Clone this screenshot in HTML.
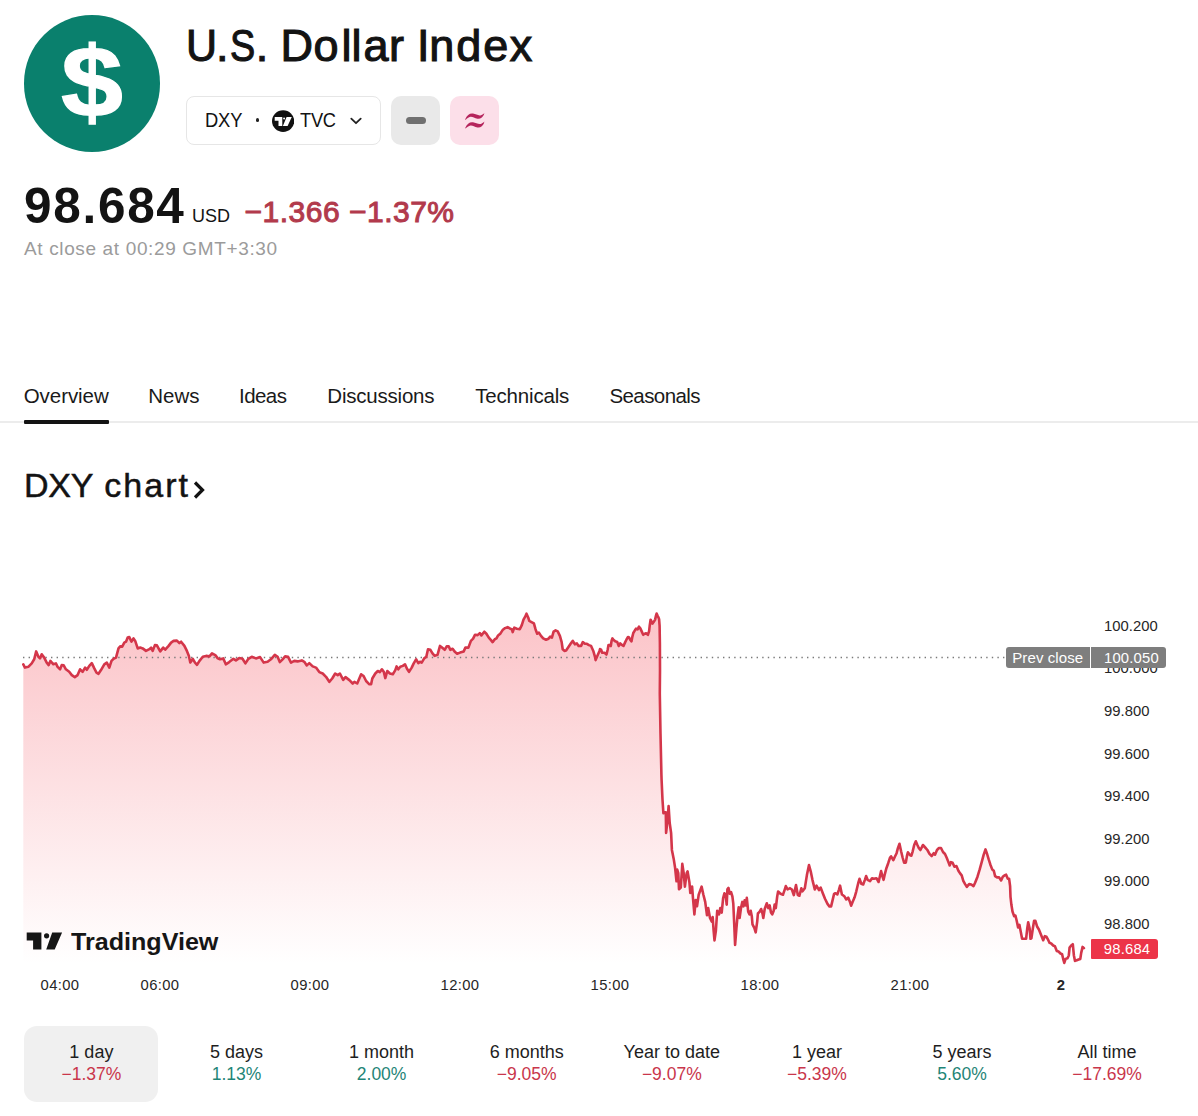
<!DOCTYPE html>
<html><head><meta charset="utf-8"><title>U.S. Dollar Index</title>
<style>
*{margin:0;padding:0;box-sizing:border-box}
html,body{width:1198px;height:1116px;background:#fff;overflow:hidden}
body{font-family:"Liberation Sans",sans-serif;color:#131313;position:relative}
.abs{position:absolute;white-space:nowrap}
#logo{left:23.8px;top:15.4px;width:136.2px;height:136.2px;border-radius:50%;background:#0a806d}
#title{left:186px;top:19px;font-size:45px;line-height:54px;-webkit-text-stroke:1.1px #131313;letter-spacing:0.4px}
#pill{left:185.5px;top:96px;width:195.5px;height:49px;border:1px solid #e6e6e6;border-radius:8px;background:#fff}
.btn{top:96px;width:49px;height:49px;border-radius:10px}
#price{left:24px;top:177.5px;font-size:49.5px;line-height:56px;font-weight:bold;letter-spacing:1.7px}
#usd{left:192px;top:204px;font-size:18px;line-height:24px}
#chg{left:244.5px;top:194px;font-size:30px;line-height:36px;color:#b23a4c;-webkit-text-stroke:1px #b23a4c;letter-spacing:0.5px}
#close{left:24px;top:237px;font-size:19px;line-height:24px;color:#9b9b9b;letter-spacing:0.64px}
.tab{top:382.6px;font-size:20.5px;line-height:26px;color:#1a1a1a}
#h2{left:24px;top:464.3px;font-size:34px;line-height:42px;-webkit-text-stroke:0.5px #131313}
.yl{position:absolute;left:1104px;font-size:14.8px;line-height:16px;color:#262626;white-space:nowrap;letter-spacing:0.05px}
.xl{position:absolute;top:977px;width:80px;text-align:center;font-size:14.8px;line-height:16px;color:#262626;letter-spacing:0.35px}
.rg{position:absolute;top:1042px;width:140px;text-align:center}
.rn{font-size:18px;line-height:21px;color:#1e1e1e}
.rv{font-size:17.5px;line-height:22px}
.r{color:#c9364b} .g{color:#1f8577}
</style></head><body>

<div id="logo" class="abs"></div>
<svg class="abs" style="left:24px;top:15px" width="136" height="137" viewBox="0 0 136 137"><text x="68" y="100" text-anchor="middle" font-family="Liberation Sans" font-weight="bold" font-size="96" fill="#fff" stroke="#fff" stroke-width="1.2" transform="translate(68 68.5) scale(1.16 1.045) translate(-68 -67.9)">$</text></svg>

<div id="title" class="abs"><span style="position:relative;left:-0.4px;display:inline-block;transform:scaleX(0.955);transform-origin:0 0">U</span><span style="position:relative;left:-2.8px">.</span><span style="position:relative;left:-1.6px;display:inline-block;transform:scaleX(0.84);transform-origin:0 0">S</span><span style="position:relative;left:-6.5px">.</span> <span style="position:relative;left:-7.5px">D</span><span style="position:relative;left:-7.5px">o</span><span style="position:relative;left:-5px">l</span><span style="position:relative;left:-5.3px">l</span><span style="position:relative;left:-3.8px">a</span><span style="position:relative;left:-3.6px">r</span> <span style="position:relative;left:-3.9px">I</span><span style="position:relative;left:-4.5px">n</span><span style="position:relative;left:-3px">d</span><span style="position:relative;left:-1.4px">e</span><span style="position:relative;left:-0.5px">x</span></div>

<div id="pill" class="abs"></div>
<div class="abs" style="left:205.2px;top:107.8px;font-size:20.3px;line-height:24px;letter-spacing:-0.2px;transform:scaleX(0.905);transform-origin:0 0">DXY</div>
<div class="abs" style="left:255.8px;top:118px;width:3.5px;height:3.5px;border-radius:50%;background:#222"></div>
<svg class="abs" style="left:272px;top:109.75px" width="22.2" height="22.2" viewBox="0 0 22.2 22.2"><ellipse cx="11.1" cy="11.1" rx="11.1" ry="10.8" fill="#111"/><path d="M2.7 6.9h7.6v9.1h-3.8v-5.3h-3.8z M13.1 8.5a1.0 1.0 0 1 1-2 0a1.0 1.0 0 1 1 2 0z M14.6 6.9h5.2l-4.2 9.1h-4.7z" fill="#fff"/></svg>
<div class="abs" style="left:300px;top:107.8px;font-size:20.3px;line-height:24px;letter-spacing:-0.3px;transform:scaleX(0.9);transform-origin:0 0">TVC</div>
<svg class="abs" style="left:349px;top:115.4px" width="14" height="10" viewBox="0 0 14 10"><path d="M2.3 3.6 L7 8.2 L11.7 3.6" fill="none" stroke="#222" stroke-width="1.8" stroke-linecap="round" stroke-linejoin="round"/></svg>

<div class="abs btn" style="left:391px;background:#e9e9e9"></div>
<div class="abs" style="left:406px;top:116.6px;width:19.6px;height:7.5px;border-radius:3.75px;background:#707070"></div>
<div class="abs btn" style="left:450px;background:#fcdfe9"></div>
<svg class="abs" style="left:463px;top:110px" width="24" height="22" viewBox="0 0 24 22"><path d="M2.2,9.2 C4,5 7,3 10,3.6 C13,4.2 15.5,6 18,5.2 C19.5,4.7 20.5,3.8 21.3,2.9 L21.0,4.6 C20,7 17.5,9.3 14.5,8.8 C11.5,8.3 9.5,6.5 7.5,6.8 C5.5,7.1 4,8.5 2.6,9.9 Z" fill="#b5245c"/><path d="M2.2,9.2 C4,5 7,3 10,3.6 C13,4.2 15.5,6 18,5.2 C19.5,4.7 20.5,3.8 21.3,2.9 L21.0,4.6 C20,7 17.5,9.3 14.5,8.8 C11.5,8.3 9.5,6.5 7.5,6.8 C5.5,7.1 4,8.5 2.6,9.9 Z" fill="#b5245c" transform="translate(0 8.7)"/></svg>

<div id="price" class="abs">98.684</div>
<div id="usd" class="abs">USD</div>
<div id="chg" class="abs">−1.366 −1.37%</div>
<div id="close" class="abs">At close at 00:29 GMT+3:30</div>

<div class="abs tab" style="left:23.7px;letter-spacing:-0.05px">Overview</div>
<div class="abs tab" style="left:148.3px">News</div>
<div class="abs tab" style="left:239px;letter-spacing:-0.55px">Ideas</div>
<div class="abs tab" style="left:327.3px;letter-spacing:-0.21px">Discussions</div>
<div class="abs tab" style="left:475.2px;letter-spacing:-0.17px">Technicals</div>
<div class="abs tab" style="left:609.5px;letter-spacing:-0.6px">Seasonals</div>
<div class="abs" style="left:0;top:420.8px;width:1198px;height:2.6px;background:#ececec"></div>
<div class="abs" style="left:23.6px;top:420px;width:85.6px;height:4px;background:#131313;border-radius:1px"></div>

<div id="h2" class="abs"><span style="letter-spacing:-0.25px">DXY</span></div>
<div class="abs" style="left:104.2px;top:464.3px;font-size:34px;line-height:42px;-webkit-text-stroke:0.5px #131313;letter-spacing:2.05px">chart</div>
<svg class="abs" style="left:191.3px;top:479.2px" width="16" height="22" viewBox="0 0 16 22"><path d="M4 3.5 L11.5 11 L4 18.5" fill="none" stroke="#131313" stroke-width="3.2" stroke-linecap="butt" stroke-linejoin="miter"/></svg>

<svg class="abs" style="left:0;top:0" width="1198" height="1116" viewBox="0 0 1198 1116">
<defs><linearGradient id="g" x1="0" y1="610" x2="0" y2="964" gradientUnits="userSpaceOnUse">
<stop offset="0" stop-color="#f23645" stop-opacity="0.30"/><stop offset="1" stop-color="#f23645" stop-opacity="0"/></linearGradient></defs>
<path d="M23.3,664.3 L25.0,667.6 L28.3,666.8 L31.7,663.4 L34.2,659.3 L36.2,651.4 L38.4,656.8 L40.0,658.4 L41.7,654.3 L44.2,657.6 L46.7,662.6 L48.7,665.1 L50.4,660.9 L53.4,664.3 L55.9,663.4 L57.6,666.8 L60.1,669.3 L61.7,665.1 L63.7,665.4 L65.9,669.3 L69.2,671.8 L71.8,675.1 L74.8,677.1 L77.6,675.1 L80.1,669.3 L82.6,671.8 L85.1,667.6 L86.8,669.8 L89.3,665.9 L91.8,663.1 L94.3,668.4 L96.5,672.6 L98.5,673.8 L101.0,670.1 L104.3,664.3 L106.8,662.6 L109.3,667.6 L111.5,660.9 L113.5,658.8 L116.0,657.6 L118.5,648.4 L120.2,646.4 L122.2,646.7 L124.3,642.6 L126.0,641.7 L127.7,637.6 L129.3,637.1 L131.5,641.7 L133.5,638.4 L135.2,640.9 L137.7,648.4 L140.2,647.6 L142.7,648.4 L146.0,650.9 L149.4,649.2 L151.1,647.6 L152.7,650.9 L154.9,645.1 L156.9,645.4 L160.2,651.4 L163.2,647.6 L165.2,649.7 L168.6,645.9 L171.1,642.6 L173.6,640.9 L176.9,640.6 L179.4,643.1 L181.1,641.7 L184.4,645.9 L186.9,650.9 L188.9,655.9 L190.3,662.6 L192.8,658.8 L195.0,662.6 L197.0,664.8 L199.5,660.9 L202.8,656.8 L206.1,655.9 L209.5,656.4 L212.0,653.4 L215.3,655.1 L217.8,658.4 L220.0,659.3 L223.3,658.4 L225.8,664.3 L229.2,662.1 L233.4,658.8 L235.9,660.4 L239.2,658.1 L242.5,658.8 L245.4,663.4 L248.4,658.8 L251.7,656.8 L255.9,658.4 L260.1,657.1 L263.7,662.6 L267.6,661.8 L270.9,659.3 L274.8,654.8 L277.6,656.8 L279.8,662.1 L282.6,659.3 L285.1,656.4 L288.1,656.8 L291.0,662.6 L294.3,660.9 L297.6,661.4 L301.8,660.4 L304.3,661.8 L306.8,665.4 L309.3,663.1 L312.7,666.4 L316.0,667.6 L319.3,672.1 L322.7,673.5 L326.0,676.8 L329.3,681.8 L332.2,678.5 L335.2,673.5 L337.7,675.1 L339.9,673.5 L343.2,679.8 L345.5,677.1 L349.4,680.1 L352.7,683.5 L354.4,681.8 L357.2,683.5 L361.1,674.3 L363.6,676.0 L366.1,681.0 L369.4,684.3 L371.1,684.3 L372.3,678.5 L375.3,673.5 L377.8,671.0 L379.9,672.1 L381.9,669.3 L383.9,672.1 L385.3,678.1 L387.3,671.0 L389.9,673.5 L392.8,674.3 L395.3,670.1 L396.6,666.4 L398.3,669.3 L400.3,666.8 L402.8,665.9 L405.0,664.3 L407.0,668.8 L409.0,671.8 L411.7,667.6 L413.7,663.4 L416.2,659.3 L418.3,663.1 L420.0,661.8 L421.7,662.6 L424.2,658.4 L426.3,656.8 L428.0,649.3 L430.4,649.8 L432.5,653.4 L434.7,655.9 L437.5,654.8 L440.0,645.9 L442.0,647.6 L444.7,649.8 L446.7,646.4 L448.7,646.4 L450.4,649.8 L452.6,648.8 L455.1,652.1 L457.1,653.8 L460.1,652.6 L463.7,651.4 L465.4,647.6 L468.4,647.6 L470.9,640.9 L473.1,638.7 L475.1,634.7 L477.6,635.1 L479.8,633.1 L481.4,635.4 L484.3,631.7 L486.4,633.7 L488.8,637.6 L491.0,640.1 L492.6,642.1 L494.8,639.2 L496.5,638.4 L498.1,635.4 L500.5,633.4 L502.6,630.1 L505.1,628.1 L507.6,627.1 L510.2,628.7 L511.8,629.2 L512.7,632.1 L514.3,627.6 L516.8,628.7 L519.8,629.2 L521.8,625.1 L523.5,619.7 L525.2,616.7 L526.5,613.7 L528.2,617.5 L529.3,620.9 L531.5,622.1 L533.9,623.4 L535.5,629.2 L537.2,633.7 L538.9,632.6 L541.0,635.9 L543.2,638.4 L546.0,639.7 L548.5,638.7 L550.2,636.7 L551.9,637.6 L553.6,631.7 L555.6,630.4 L557.7,631.4 L559.9,635.9 L561.6,641.8 L562.7,649.3 L564.4,650.9 L566.1,650.4 L568.6,646.8 L571.1,643.1 L572.8,640.9 L574.9,644.3 L576.9,643.4 L578.6,645.9 L581.1,645.9 L582.8,642.1 L584.9,643.8 L586.9,643.8 L588.9,645.1 L591.1,645.9 L593.3,650.9 L595.0,656.8 L595.6,660.1 L597.3,655.9 L599.5,650.9 L600.0,649.1 L601.1,649.6 L602.2,652.7 L604.5,652.7 L606.5,654.5 L607.6,650.0 L608.5,645.1 L609.7,645.1 L610.8,646.0 L611.6,640.6 L612.4,638.4 L613.4,639.7 L615.2,641.3 L617.2,642.0 L618.8,646.0 L620.2,643.3 L621.5,644.7 L623.5,646.0 L625.1,642.4 L626.4,639.7 L628.0,637.0 L629.1,637.5 L630.5,640.2 L631.5,641.3 L632.4,636.6 L633.3,633.0 L634.9,630.3 L636.0,628.7 L637.6,629.4 L639.0,626.7 L640.3,628.4 L641.7,631.4 L643.2,634.8 L644.8,633.7 L646.1,633.2 L647.9,634.8 L649.1,631.2 L649.7,625.8 L650.6,619.7 L651.5,621.4 L652.4,623.6 L653.8,621.8 L655.1,619.6 L656.0,615.5 L656.6,613.5 L657.5,615.5 L658.4,617.3 L659.1,619.1 L659.6,625.8 L659.9,643.8 L660.0,670.6 L659.8,693.4 L660.5,733.8 L661.4,774.1 L661.6,780.0 L662.5,799.7 L663.4,813.2 L665.8,812.3 L666.1,832.9 L667.6,819.4 L668.6,806.0 L669.7,823.0 L671.1,832.9 L671.9,849.9 L673.7,858.9 L675.1,867.8 L676.5,881.3 L677.2,869.6 L678.3,873.2 L679.0,889.3 L680.8,887.5 L682.3,863.9 L683.7,873.2 L684.9,886.6 L686.7,873.2 L687.6,871.4 L689.4,882.2 L690.3,892.9 L692.1,886.6 L693.0,898.3 L694.4,914.4 L695.7,900.1 L697.0,906.3 L698.7,894.7 L701.6,886.6 L703.4,894.7 L705.2,901.9 L707.0,915.3 L708.2,908.1 L710.0,918.0 L711.8,921.6 L712.7,917.1 L713.6,930.5 L714.5,940.4 L715.9,930.5 L717.2,910.8 L719.0,914.4 L720.3,908.1 L721.7,912.6 L723.1,898.3 L724.4,893.3 L725.6,894.7 L726.7,904.6 L727.4,889.3 L728.5,887.9 L729.7,893.8 L731.0,892.0 L732.4,896.5 L733.3,903.7 L734.2,923.4 L735.1,944.9 L736.4,928.7 L737.5,916.2 L738.7,907.2 L739.6,918.0 L741.0,908.1 L742.3,901.9 L743.5,906.3 L744.6,900.4 L745.9,905.4 L746.8,897.9 L748.2,911.7 L749.5,914.4 L750.7,910.8 L751.8,916.2 L752.5,924.3 L754.3,927.8 L755.7,932.3 L757.2,921.6 L757.9,913.5 L759.7,911.7 L761.1,909.0 L762.5,913.5 L763.3,918.0 L764.7,909.0 L766.8,903.3 L768.3,908.1 L769.7,905.4 L771.0,912.6 L772.2,914.4 L773.7,910.8 L774.6,904.6 L775.8,908.1 L777.2,896.5 L778.1,891.5 L780.5,893.8 L783.0,894.7 L784.8,889.3 L785.8,886.1 L787.6,889.3 L789.8,888.4 L790.0,888.2 L791.9,889.5 L793.8,895.1 L796.0,885.1 L797.8,895.1 L799.4,895.7 L801.3,888.2 L802.5,891.3 L804.8,888.2 L806.9,875.1 L809.0,865.1 L810.7,871.3 L812.5,880.1 L814.8,889.5 L816.5,885.7 L819.0,890.1 L820.7,887.6 L822.8,893.2 L825.0,898.8 L827.5,903.9 L829.4,906.4 L831.1,906.4 L832.6,900.1 L834.1,893.8 L835.3,893.2 L837.3,894.5 L838.8,890.1 L840.1,885.7 L841.9,894.5 L844.4,896.3 L846.3,899.5 L848.2,897.6 L849.8,901.4 L851.1,905.7 L852.6,902.0 L854.5,897.6 L856.3,891.3 L858.2,883.2 L859.5,878.8 L861.3,883.8 L863.2,884.5 L864.8,880.1 L866.1,876.1 L867.6,879.8 L870.1,881.1 L872.0,878.2 L873.9,878.8 L876.4,878.2 L878.6,882.0 L879.9,876.3 L881.1,871.1 L882.4,876.3 L883.6,879.8 L884.9,873.8 L886.4,868.2 L888.2,863.2 L890.1,857.5 L891.1,856.3 L893.3,860.1 L895.1,856.3 L896.6,853.2 L897.9,848.2 L899.5,843.8 L901.1,851.3 L902.6,857.5 L904.1,862.6 L905.8,862.6 L907.0,855.7 L907.9,852.3 L909.9,855.0 L911.4,855.7 L912.7,851.3 L914.2,845.0 L915.8,841.3 L917.4,845.0 L918.9,848.2 L920.4,850.0 L922.0,846.9 L922.9,845.0 L925.2,847.5 L927.4,850.0 L929.5,853.8 L931.7,856.0 L933.7,853.2 L935.0,854.7 L937.0,850.0 L939.0,848.0 L941.0,848.0 L943.0,852.0 L945.0,854.0 L946.8,858.0 L948.4,862.1 L949.7,865.4 L951.0,862.1 L952.6,862.7 L954.4,866.7 L956.4,866.1 L958.4,870.7 L960.1,873.4 L961.7,875.4 L963.3,880.8 L965.1,884.1 L966.8,886.8 L969.1,884.1 L971.3,884.5 L973.5,886.1 L975.1,882.8 L977.5,876.7 L979.7,869.4 L981.7,862.1 L983.7,854.7 L985.5,849.4 L987.1,854.0 L988.7,859.4 L990.4,864.7 L992.2,869.4 L993.8,870.7 L995.1,876.1 L997.1,877.4 L999.1,877.4 L1001.1,880.5 L1002.8,876.7 L1004.4,875.4 L1006.1,874.7 L1007.8,878.7 L1009.1,878.7 L1010.1,886.1 L1010.5,896.8 L1011.4,904.8 L1012.5,911.5 L1014.1,916.1 L1015.4,915.5 L1016.7,920.8 L1018.1,927.5 L1019.4,924.8 L1020.7,931.5 L1022.1,938.8 L1024.2,938.8 L1026.1,938.8 L1027.2,928.8 L1028.2,922.2 L1029.6,928.2 L1030.5,938.8 L1031.4,938.2 L1032.8,928.8 L1034.1,920.8 L1035.4,920.8 L1037.2,926.8 L1038.9,929.5 L1040.5,933.5 L1042.1,937.5 L1043.2,940.2 L1044.8,936.2 L1046.5,936.8 L1048.3,940.2 L1049.6,942.9 L1051.2,943.5 L1053.2,945.5 L1054.9,946.2 L1056.8,950.9 L1058.5,951.5 L1060.5,953.5 L1062.1,954.2 L1063.5,960.2 L1064.3,962.9 L1065.6,958.9 L1067.5,958.2 L1068.8,955.5 L1069.6,947.5 L1071.2,945.5 L1072.8,944.2 L1073.9,955.5 L1075.0,960.9 L1076.8,960.2 L1078.6,959.5 L1080.3,958.9 L1081.2,952.9 L1082.6,946.9 L1083.9,948.2 L1083.9,964 L23.3,964 Z" fill="url(#g)"/>
<line x1="23" y1="657.5" x2="1005" y2="657.5" stroke="#7a7a7a" stroke-width="1.3" stroke-dasharray="1.4 4.2"/>
<path d="M23.3,664.3 L25.0,667.6 L28.3,666.8 L31.7,663.4 L34.2,659.3 L36.2,651.4 L38.4,656.8 L40.0,658.4 L41.7,654.3 L44.2,657.6 L46.7,662.6 L48.7,665.1 L50.4,660.9 L53.4,664.3 L55.9,663.4 L57.6,666.8 L60.1,669.3 L61.7,665.1 L63.7,665.4 L65.9,669.3 L69.2,671.8 L71.8,675.1 L74.8,677.1 L77.6,675.1 L80.1,669.3 L82.6,671.8 L85.1,667.6 L86.8,669.8 L89.3,665.9 L91.8,663.1 L94.3,668.4 L96.5,672.6 L98.5,673.8 L101.0,670.1 L104.3,664.3 L106.8,662.6 L109.3,667.6 L111.5,660.9 L113.5,658.8 L116.0,657.6 L118.5,648.4 L120.2,646.4 L122.2,646.7 L124.3,642.6 L126.0,641.7 L127.7,637.6 L129.3,637.1 L131.5,641.7 L133.5,638.4 L135.2,640.9 L137.7,648.4 L140.2,647.6 L142.7,648.4 L146.0,650.9 L149.4,649.2 L151.1,647.6 L152.7,650.9 L154.9,645.1 L156.9,645.4 L160.2,651.4 L163.2,647.6 L165.2,649.7 L168.6,645.9 L171.1,642.6 L173.6,640.9 L176.9,640.6 L179.4,643.1 L181.1,641.7 L184.4,645.9 L186.9,650.9 L188.9,655.9 L190.3,662.6 L192.8,658.8 L195.0,662.6 L197.0,664.8 L199.5,660.9 L202.8,656.8 L206.1,655.9 L209.5,656.4 L212.0,653.4 L215.3,655.1 L217.8,658.4 L220.0,659.3 L223.3,658.4 L225.8,664.3 L229.2,662.1 L233.4,658.8 L235.9,660.4 L239.2,658.1 L242.5,658.8 L245.4,663.4 L248.4,658.8 L251.7,656.8 L255.9,658.4 L260.1,657.1 L263.7,662.6 L267.6,661.8 L270.9,659.3 L274.8,654.8 L277.6,656.8 L279.8,662.1 L282.6,659.3 L285.1,656.4 L288.1,656.8 L291.0,662.6 L294.3,660.9 L297.6,661.4 L301.8,660.4 L304.3,661.8 L306.8,665.4 L309.3,663.1 L312.7,666.4 L316.0,667.6 L319.3,672.1 L322.7,673.5 L326.0,676.8 L329.3,681.8 L332.2,678.5 L335.2,673.5 L337.7,675.1 L339.9,673.5 L343.2,679.8 L345.5,677.1 L349.4,680.1 L352.7,683.5 L354.4,681.8 L357.2,683.5 L361.1,674.3 L363.6,676.0 L366.1,681.0 L369.4,684.3 L371.1,684.3 L372.3,678.5 L375.3,673.5 L377.8,671.0 L379.9,672.1 L381.9,669.3 L383.9,672.1 L385.3,678.1 L387.3,671.0 L389.9,673.5 L392.8,674.3 L395.3,670.1 L396.6,666.4 L398.3,669.3 L400.3,666.8 L402.8,665.9 L405.0,664.3 L407.0,668.8 L409.0,671.8 L411.7,667.6 L413.7,663.4 L416.2,659.3 L418.3,663.1 L420.0,661.8 L421.7,662.6 L424.2,658.4 L426.3,656.8 L428.0,649.3 L430.4,649.8 L432.5,653.4 L434.7,655.9 L437.5,654.8 L440.0,645.9 L442.0,647.6 L444.7,649.8 L446.7,646.4 L448.7,646.4 L450.4,649.8 L452.6,648.8 L455.1,652.1 L457.1,653.8 L460.1,652.6 L463.7,651.4 L465.4,647.6 L468.4,647.6 L470.9,640.9 L473.1,638.7 L475.1,634.7 L477.6,635.1 L479.8,633.1 L481.4,635.4 L484.3,631.7 L486.4,633.7 L488.8,637.6 L491.0,640.1 L492.6,642.1 L494.8,639.2 L496.5,638.4 L498.1,635.4 L500.5,633.4 L502.6,630.1 L505.1,628.1 L507.6,627.1 L510.2,628.7 L511.8,629.2 L512.7,632.1 L514.3,627.6 L516.8,628.7 L519.8,629.2 L521.8,625.1 L523.5,619.7 L525.2,616.7 L526.5,613.7 L528.2,617.5 L529.3,620.9 L531.5,622.1 L533.9,623.4 L535.5,629.2 L537.2,633.7 L538.9,632.6 L541.0,635.9 L543.2,638.4 L546.0,639.7 L548.5,638.7 L550.2,636.7 L551.9,637.6 L553.6,631.7 L555.6,630.4 L557.7,631.4 L559.9,635.9 L561.6,641.8 L562.7,649.3 L564.4,650.9 L566.1,650.4 L568.6,646.8 L571.1,643.1 L572.8,640.9 L574.9,644.3 L576.9,643.4 L578.6,645.9 L581.1,645.9 L582.8,642.1 L584.9,643.8 L586.9,643.8 L588.9,645.1 L591.1,645.9 L593.3,650.9 L595.0,656.8 L595.6,660.1 L597.3,655.9 L599.5,650.9 L600.0,649.1 L601.1,649.6 L602.2,652.7 L604.5,652.7 L606.5,654.5 L607.6,650.0 L608.5,645.1 L609.7,645.1 L610.8,646.0 L611.6,640.6 L612.4,638.4 L613.4,639.7 L615.2,641.3 L617.2,642.0 L618.8,646.0 L620.2,643.3 L621.5,644.7 L623.5,646.0 L625.1,642.4 L626.4,639.7 L628.0,637.0 L629.1,637.5 L630.5,640.2 L631.5,641.3 L632.4,636.6 L633.3,633.0 L634.9,630.3 L636.0,628.7 L637.6,629.4 L639.0,626.7 L640.3,628.4 L641.7,631.4 L643.2,634.8 L644.8,633.7 L646.1,633.2 L647.9,634.8 L649.1,631.2 L649.7,625.8 L650.6,619.7 L651.5,621.4 L652.4,623.6 L653.8,621.8 L655.1,619.6 L656.0,615.5 L656.6,613.5 L657.5,615.5 L658.4,617.3 L659.1,619.1 L659.6,625.8 L659.9,643.8 L660.0,670.6 L659.8,693.4 L660.5,733.8 L661.4,774.1 L661.6,780.0 L662.5,799.7 L663.4,813.2 L665.8,812.3 L666.1,832.9 L667.6,819.4 L668.6,806.0 L669.7,823.0 L671.1,832.9 L671.9,849.9 L673.7,858.9 L675.1,867.8 L676.5,881.3 L677.2,869.6 L678.3,873.2 L679.0,889.3 L680.8,887.5 L682.3,863.9 L683.7,873.2 L684.9,886.6 L686.7,873.2 L687.6,871.4 L689.4,882.2 L690.3,892.9 L692.1,886.6 L693.0,898.3 L694.4,914.4 L695.7,900.1 L697.0,906.3 L698.7,894.7 L701.6,886.6 L703.4,894.7 L705.2,901.9 L707.0,915.3 L708.2,908.1 L710.0,918.0 L711.8,921.6 L712.7,917.1 L713.6,930.5 L714.5,940.4 L715.9,930.5 L717.2,910.8 L719.0,914.4 L720.3,908.1 L721.7,912.6 L723.1,898.3 L724.4,893.3 L725.6,894.7 L726.7,904.6 L727.4,889.3 L728.5,887.9 L729.7,893.8 L731.0,892.0 L732.4,896.5 L733.3,903.7 L734.2,923.4 L735.1,944.9 L736.4,928.7 L737.5,916.2 L738.7,907.2 L739.6,918.0 L741.0,908.1 L742.3,901.9 L743.5,906.3 L744.6,900.4 L745.9,905.4 L746.8,897.9 L748.2,911.7 L749.5,914.4 L750.7,910.8 L751.8,916.2 L752.5,924.3 L754.3,927.8 L755.7,932.3 L757.2,921.6 L757.9,913.5 L759.7,911.7 L761.1,909.0 L762.5,913.5 L763.3,918.0 L764.7,909.0 L766.8,903.3 L768.3,908.1 L769.7,905.4 L771.0,912.6 L772.2,914.4 L773.7,910.8 L774.6,904.6 L775.8,908.1 L777.2,896.5 L778.1,891.5 L780.5,893.8 L783.0,894.7 L784.8,889.3 L785.8,886.1 L787.6,889.3 L789.8,888.4 L790.0,888.2 L791.9,889.5 L793.8,895.1 L796.0,885.1 L797.8,895.1 L799.4,895.7 L801.3,888.2 L802.5,891.3 L804.8,888.2 L806.9,875.1 L809.0,865.1 L810.7,871.3 L812.5,880.1 L814.8,889.5 L816.5,885.7 L819.0,890.1 L820.7,887.6 L822.8,893.2 L825.0,898.8 L827.5,903.9 L829.4,906.4 L831.1,906.4 L832.6,900.1 L834.1,893.8 L835.3,893.2 L837.3,894.5 L838.8,890.1 L840.1,885.7 L841.9,894.5 L844.4,896.3 L846.3,899.5 L848.2,897.6 L849.8,901.4 L851.1,905.7 L852.6,902.0 L854.5,897.6 L856.3,891.3 L858.2,883.2 L859.5,878.8 L861.3,883.8 L863.2,884.5 L864.8,880.1 L866.1,876.1 L867.6,879.8 L870.1,881.1 L872.0,878.2 L873.9,878.8 L876.4,878.2 L878.6,882.0 L879.9,876.3 L881.1,871.1 L882.4,876.3 L883.6,879.8 L884.9,873.8 L886.4,868.2 L888.2,863.2 L890.1,857.5 L891.1,856.3 L893.3,860.1 L895.1,856.3 L896.6,853.2 L897.9,848.2 L899.5,843.8 L901.1,851.3 L902.6,857.5 L904.1,862.6 L905.8,862.6 L907.0,855.7 L907.9,852.3 L909.9,855.0 L911.4,855.7 L912.7,851.3 L914.2,845.0 L915.8,841.3 L917.4,845.0 L918.9,848.2 L920.4,850.0 L922.0,846.9 L922.9,845.0 L925.2,847.5 L927.4,850.0 L929.5,853.8 L931.7,856.0 L933.7,853.2 L935.0,854.7 L937.0,850.0 L939.0,848.0 L941.0,848.0 L943.0,852.0 L945.0,854.0 L946.8,858.0 L948.4,862.1 L949.7,865.4 L951.0,862.1 L952.6,862.7 L954.4,866.7 L956.4,866.1 L958.4,870.7 L960.1,873.4 L961.7,875.4 L963.3,880.8 L965.1,884.1 L966.8,886.8 L969.1,884.1 L971.3,884.5 L973.5,886.1 L975.1,882.8 L977.5,876.7 L979.7,869.4 L981.7,862.1 L983.7,854.7 L985.5,849.4 L987.1,854.0 L988.7,859.4 L990.4,864.7 L992.2,869.4 L993.8,870.7 L995.1,876.1 L997.1,877.4 L999.1,877.4 L1001.1,880.5 L1002.8,876.7 L1004.4,875.4 L1006.1,874.7 L1007.8,878.7 L1009.1,878.7 L1010.1,886.1 L1010.5,896.8 L1011.4,904.8 L1012.5,911.5 L1014.1,916.1 L1015.4,915.5 L1016.7,920.8 L1018.1,927.5 L1019.4,924.8 L1020.7,931.5 L1022.1,938.8 L1024.2,938.8 L1026.1,938.8 L1027.2,928.8 L1028.2,922.2 L1029.6,928.2 L1030.5,938.8 L1031.4,938.2 L1032.8,928.8 L1034.1,920.8 L1035.4,920.8 L1037.2,926.8 L1038.9,929.5 L1040.5,933.5 L1042.1,937.5 L1043.2,940.2 L1044.8,936.2 L1046.5,936.8 L1048.3,940.2 L1049.6,942.9 L1051.2,943.5 L1053.2,945.5 L1054.9,946.2 L1056.8,950.9 L1058.5,951.5 L1060.5,953.5 L1062.1,954.2 L1063.5,960.2 L1064.3,962.9 L1065.6,958.9 L1067.5,958.2 L1068.8,955.5 L1069.6,947.5 L1071.2,945.5 L1072.8,944.2 L1073.9,955.5 L1075.0,960.9 L1076.8,960.2 L1078.6,959.5 L1080.3,958.9 L1081.2,952.9 L1082.6,946.9 L1083.9,948.2" fill="none" stroke="#d4364a" stroke-width="2.6" stroke-linejoin="round" stroke-linecap="round"/>
</svg>

<div class="yl" style="top:617.8px">100.200</div>
<div class="yl" style="top:660.4px">100.000</div>
<div class="yl" style="top:703.1px">99.800</div>
<div class="yl" style="top:745.6px">99.600</div>
<div class="yl" style="top:788.2px">99.400</div>
<div class="yl" style="top:830.8px">99.200</div>
<div class="yl" style="top:873.3px">99.000</div>
<div class="yl" style="top:915.9px">98.800</div>
<div class="abs" style="left:1006px;top:647.1px;width:83.5px;height:20.5px;background:#7e7e7e;border-radius:3px 0 0 3px;color:#fff;font-size:15px;line-height:22px;text-align:center;letter-spacing:0.1px">Prev close</div>
<div class="abs" style="left:1091.2px;top:647.1px;width:74.6px;height:20.5px;background:#7e7e7e;border-radius:0 3px 3px 0;color:#fff;font-size:14.8px;line-height:22px;padding-left:12.8px;letter-spacing:0.2px">100.050</div>
<div class="abs" style="left:1091px;top:938.5px;width:67px;height:20px;background:#ec3448;border-radius:1px 3px 3px 1px;color:#fff;font-size:14.8px;line-height:21px;padding-left:12.8px;letter-spacing:0.2px">98.684</div>

<div class="xl" style="left:20px">04:00</div>
<div class="xl" style="left:120px">06:00</div>
<div class="xl" style="left:270px">09:00</div>
<div class="xl" style="left:420px">12:00</div>
<div class="xl" style="left:570px">15:00</div>
<div class="xl" style="left:720px">18:00</div>
<div class="xl" style="left:870px">21:00</div>
<div class="xl" style="left:1021px;font-weight:bold">2</div>

<svg class="abs" style="left:24px;top:930px" width="200" height="24" viewBox="0 0 200 24"><path d="M2.7 2.4h14.7v17h-8.3v-9h-6.4z M25.2 5.8a2.6 2.6 0 1 1-5.2 0a2.6 2.6 0 1 1 5.2 0z M28.2 2.4h9.9l-7.4 17h-8.5z" fill="#161616"/></svg>
<div class="abs" style="left:70.5px;top:927.7px;font-size:23.5px;line-height:28px;font-weight:bold;color:#161616;letter-spacing:0px;transform:scaleX(1.068);transform-origin:0 0">TradingView</div>

<div class="abs" style="left:24px;top:1026px;width:134px;height:76px;border-radius:13px;background:#f0f0f0"></div>
<div class="rg" style="left:21.4px"><div class="rn">1 day</div><div class="rv r">−1.37%</div></div>
<div class="rg" style="left:166.5px"><div class="rn">5 days</div><div class="rv g">1.13%</div></div>
<div class="rg" style="left:311.6px"><div class="rn">1 month</div><div class="rv g">2.00%</div></div>
<div class="rg" style="left:456.7px"><div class="rn">6 months</div><div class="rv r">−9.05%</div></div>
<div class="rg" style="left:601.8px"><div class="rn">Year to date</div><div class="rv r">−9.07%</div></div>
<div class="rg" style="left:746.9px"><div class="rn">1 year</div><div class="rv r">−5.39%</div></div>
<div class="rg" style="left:892.0px"><div class="rn">5 years</div><div class="rv g">5.60%</div></div>
<div class="rg" style="left:1037.1px"><div class="rn">All time</div><div class="rv r">−17.69%</div></div>
</body></html>
